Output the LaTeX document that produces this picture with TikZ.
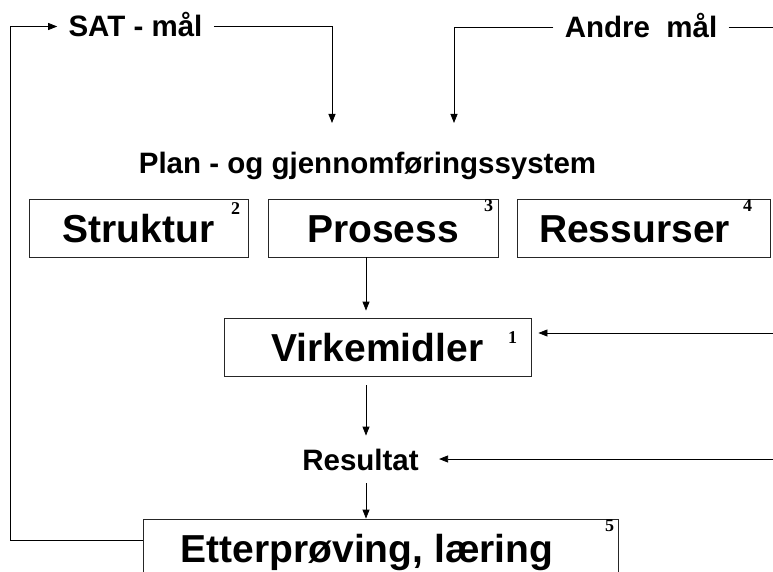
\documentclass[tikz,border=0pt]{standalone}
\usepackage{fontspec}
\setmainfont{Liberation Sans}
\newfontfamily\tallfont{Liberation Serif}
\usetikzlibrary{arrows.meta, positioning}
\tikzset{
    >={Triangle[length=9pt, width=7pt]}, % filled arrow heads
}
\tikzset{boks/.style={
        rectangle, draw=black!85, inner sep=0pt,
        font=\fontsize{39}{40}\selectfont\bfseries, text height=28pt, text depth=0pt,
    }
}
\tikzset{maal/.style={
        inner xsep=11pt, inner ysep=0pt, font=\fontsize{29.5}{30}\selectfont\bfseries,
        text height=21pt, text depth=0pt,
    }
}
\tikzset{nummer/.style={
        inner sep=0pt, font=\fontsize{18}{19}\selectfont\tallfont\bfseries, text depth=0pt,
    }
}

\begin{document}
\begin{tikzpicture}[x=1pt, y=-1pt, line width=0.8pt]
        \useasboundingbox (0,0) rectangle (773,572);
        % Nodes
        \node[maal, anchor=base] (sat) at (135.5,37) {SAT - mål};
        \node[maal, anchor=base] (andre) at (641,38) {Andre~ mål};
        \node[maal, anchor=base, inner xsep=0pt] (plan) at (367.5,174) {Plan - og gjennomføringssystem};

        \node[boks, minimum width=219pt, minimum height=58pt] (struktur) at (138.5,228) {Struktur};
        \node[boks, minimum width=230pt, minimum height=58pt] (prosess) at (383,228) {Prosess};
        \node[boks, minimum width=253pt, minimum height=58pt] (ressurser) at (643.5,228) {Ressurser\hspace*{18pt}};
        \node[boks, minimum width=307pt, minimum height=58pt] (virk) at (377.5,347) {Virkemidler};
        \node[maal, inner xsep=2pt, inner ysep=13pt] (resultat) at (360.5,459.5) {Resultat};
        \node[boks, minimum width=475pt, minimum height=62pt, text height=24pt] (etter) at (380.5,550) {Etterprøving, læring\hspace*{27pt}};

        \node[nummer, below left=4pt and 8pt of struktur.north east] (n2) {2};
        \node[nummer, below left=1pt and 5pt of prosess.north east] (n3) {3};
        \node[nummer, below left=1pt and 18pt of ressurser.north east] (n4) {4};
        \node[nummer, below left=14pt and 14pt of virk.north east] (n1) {1};
        \node[nummer, below left=1pt and 4pt of etter.north east] (n5) {5};

        \coordinate (fb) at (10,540);
        \coordinate (col) at (366,0);
        \coordinate (s1) at (332,123);
        \coordinate (a1) at (454,123);
        \coordinate (kant) at (773,0);
        \coordinate (inn1) at (773,333);
        \coordinate (inn2) at (773,459);

        % Draw lines
        \draw[->] (etter.west |- fb) -- (fb) |- (sat.west);
        \draw[->] (sat.east) -| (s1);
        \draw[->] (andre.west) -| (a1);
        \draw (andre.east) -- (andre.east -| kant);

        \draw[->, shorten >=7pt] (prosess.south -| col) -- (virk.north -| col);
        \draw[->, shorten >=7pt] (inn1) -- (virk.east |- inn1);
        \draw[->, shorten <=9pt] (virk.south -| col) -- (resultat.north -| col);
        \draw[->, shorten >=18pt] (inn2) -- (resultat.east |- inn2);
        \draw[->] (resultat.south -| col) -- (etter.north -| col);
    \end{tikzpicture}
\end{document}
